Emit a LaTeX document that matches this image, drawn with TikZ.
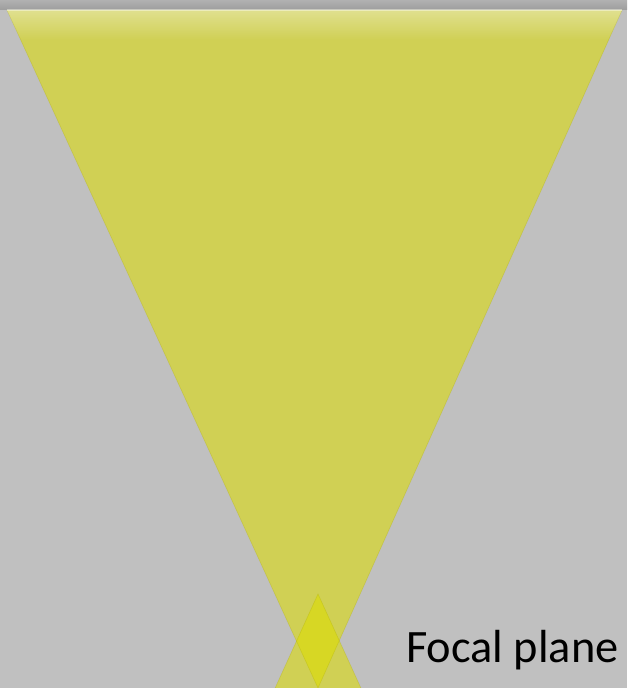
\documentclass[tikz,border=0pt]{standalone}
\usepackage{fontspec}
\setmainfont{Carlito}
\usetikzlibrary{fadings}
\definecolor{paper}{RGB}{192,192,192}
\definecolor{beamyellow}{RGB}{222,222,0}
\begin{document}
\begin{tikzpicture}[x=0.025cm,y=0.025cm,
  beam/.style={fill=beamyellow,fill opacity=.56},
  rim/.style={draw=beamyellow!80!black,draw opacity=.35,line width=.4pt}]
\fill[paper] (0,0) rectangle (627,688);
\useasboundingbox (0,0) rectangle (627,688);
% shadow above the lens
\shade[top color=paper!92!black,bottom color=paper!82!black] (0,678) rectangle (627,688);
% points of the cone
\coordinate (lensL) at (7,678);
\coordinate (lensR) at (622,678);
\coordinate (focus) at (318,0);
\coordinate (tip) at (318,94);
\coordinate (outL) at (266,-20);
\coordinate (outR) at (370,-20);
\begin{scope}
\clip (0,0) rectangle (627,688);
% converging cone
\fill[beam] (lensL) -- (lensR) -- (focus) -- cycle;
% diverging cone below the focus
\fill[beam] (tip) -- (outR) -- (outL) -- cycle;
\draw[rim] (lensL) -- (focus) -- (lensR);
\draw[rim] (outL) -- (tip) -- (outR);
\end{scope}
% glossy top of the lens
\begin{scope}
\clip (lensL) -- (lensR) -- (focus) -- cycle;
\fill[white,opacity=.35,path fading=south] (0,648) rectangle (627,678);
\end{scope}
\draw[white,opacity=.4,line width=.8pt] (lensL) -- (lensR);
\node[anchor=base west,font=\fontsize{33}{40}\selectfont,inner sep=0pt] (label) at (406,25) {Focal plane};
\end{tikzpicture}
\end{document}
